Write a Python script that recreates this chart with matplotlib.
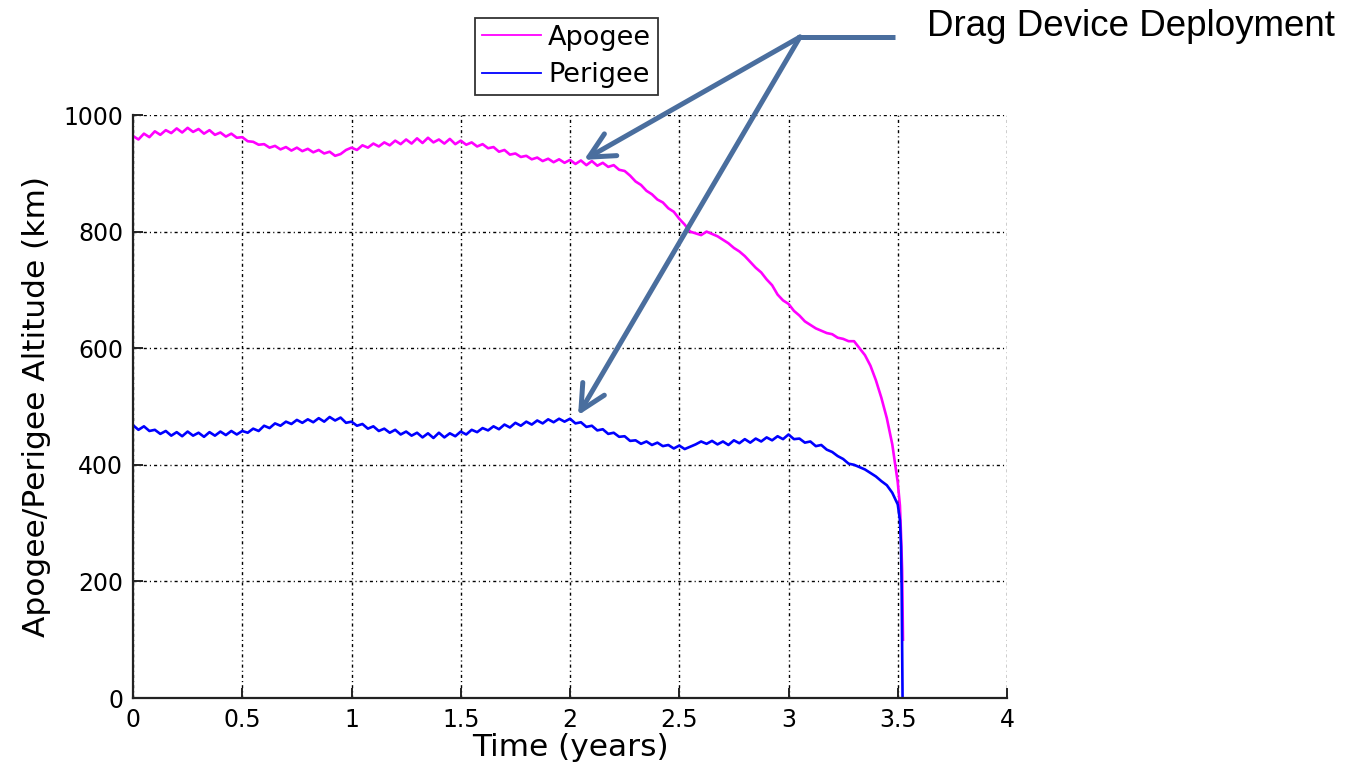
import matplotlib
matplotlib.use("Agg")
import matplotlib.pyplot as plt
from matplotlib.lines import Line2D

# ---------------- data ----------------
apogee_t = [0.000, 0.025, 0.050, 0.075, 0.100, 0.125, 0.150, 0.175, 0.200, 0.225,
            0.250, 0.275, 0.300, 0.325, 0.350, 0.375, 0.400, 0.425, 0.450, 0.475,
            0.500, 0.525, 0.550, 0.575, 0.600, 0.625, 0.650, 0.675, 0.700, 0.725,
            0.750, 0.775, 0.800, 0.825, 0.850, 0.875, 0.900, 0.925, 0.950, 0.975,
            1.000, 1.025, 1.050, 1.075, 1.100, 1.125, 1.150, 1.175, 1.200, 1.225,
            1.250, 1.275, 1.300, 1.325, 1.350, 1.375, 1.400, 1.425, 1.450, 1.475,
            1.500, 1.525, 1.550, 1.575, 1.600, 1.625, 1.650, 1.675, 1.700, 1.725,
            1.750, 1.775, 1.800, 1.825, 1.850, 1.875, 1.900, 1.925, 1.950, 1.975,
            2.000, 2.025, 2.050, 2.075, 2.100, 2.125, 2.150, 2.175, 2.200, 2.225,
            2.250, 2.275, 2.300, 2.325, 2.350, 2.375, 2.400, 2.425, 2.450, 2.475,
            2.500, 2.525, 2.550, 2.575, 2.600, 2.625, 2.650, 2.675, 2.700, 2.725,
            2.750, 2.775, 2.800, 2.825, 2.850, 2.875, 2.900, 2.925, 2.950, 2.975,
            3.000, 3.025, 3.050, 3.075, 3.100, 3.125, 3.150, 3.175, 3.200, 3.225,
            3.250, 3.275, 3.300, 3.325, 3.350, 3.375, 3.400, 3.425, 3.450, 3.475,
            3.500, 3.510, 3.515, 3.520, 3.524]
apogee_km = [964, 958, 968, 962, 972, 966, 974, 969, 977, 970,
             978, 971, 976, 968, 974, 966, 970, 963, 968, 961,
             962, 955, 954, 949, 950, 944, 947, 941, 945, 939,
             944, 938, 942, 936, 940, 934, 937, 930, 933, 940,
             944, 940, 948, 944, 951, 946, 953, 948, 956, 950,
             958, 951, 960, 952, 961, 953, 958, 951, 959, 950,
             956, 949, 953, 946, 950, 943, 945, 937, 940, 932,
             934, 928, 930, 924, 927, 921, 925, 919, 924, 918,
             923, 916, 922, 914, 921, 913, 918, 911, 914, 906,
             904, 896, 886, 880, 870, 864, 855, 850, 840, 834,
             822, 812, 800, 797, 794, 800, 796, 792, 786, 780,
             772, 766, 758, 748, 738, 730, 718, 708, 692, 682,
             676, 664, 656, 646, 640, 634, 630, 626, 624, 618,
             616, 612, 612, 600, 588, 570, 545, 515, 480, 435,
             370, 330, 280, 220, 100]

perigee_t = [0.000, 0.025, 0.050, 0.075, 0.100, 0.125, 0.150, 0.175, 0.200, 0.225,
             0.250, 0.275, 0.300, 0.325, 0.350, 0.375, 0.400, 0.425, 0.450, 0.475,
             0.500, 0.525, 0.550, 0.575, 0.600, 0.625, 0.650, 0.675, 0.700, 0.725,
             0.750, 0.775, 0.800, 0.825, 0.850, 0.875, 0.900, 0.925, 0.950, 0.975,
             1.000, 1.025, 1.050, 1.075, 1.100, 1.125, 1.150, 1.175, 1.200, 1.225,
             1.250, 1.275, 1.300, 1.325, 1.350, 1.375, 1.400, 1.425, 1.450, 1.475,
             1.500, 1.525, 1.550, 1.575, 1.600, 1.625, 1.650, 1.675, 1.700, 1.725,
             1.750, 1.775, 1.800, 1.825, 1.850, 1.875, 1.900, 1.925, 1.950, 1.975,
             2.000, 2.025, 2.050, 2.075, 2.100, 2.125, 2.150, 2.175, 2.200, 2.225,
             2.250, 2.275, 2.300, 2.325, 2.350, 2.375, 2.400, 2.425, 2.450, 2.475,
             2.500, 2.525, 2.550, 2.575, 2.600, 2.625, 2.650, 2.675, 2.700, 2.725,
             2.750, 2.775, 2.800, 2.825, 2.850, 2.875, 2.900, 2.925, 2.950, 2.975,
             3.000, 3.025, 3.050, 3.075, 3.100, 3.125, 3.150, 3.175, 3.200, 3.225,
             3.250, 3.275, 3.300, 3.325, 3.350, 3.375, 3.400, 3.425, 3.450, 3.475,
             3.500, 3.510, 3.515, 3.518, 3.520, 3.522]
perigee_km = [468, 460, 466, 458, 460, 453, 458, 450, 456, 449,
              457, 450, 455, 448, 456, 450, 457, 451, 458, 452,
              458, 455, 462, 458, 467, 463, 471, 467, 474, 470,
              477, 472, 478, 473, 480, 474, 482, 476, 481, 472,
              474, 467, 470, 462, 466, 458, 462, 455, 460, 452,
              457, 450, 455, 447, 454, 446, 455, 447, 454, 449,
              457, 452, 460, 456, 463, 459, 466, 461, 469, 464,
              472, 467, 474, 469, 476, 471, 478, 473, 479, 474,
              479, 471, 473, 465, 467, 459, 461, 453, 455, 448,
              449, 441, 442, 436, 440, 434, 438, 432, 434, 428,
              433, 427, 431, 435, 440, 436, 441, 435, 440, 434,
              442, 437, 444, 438, 445, 440, 447, 442, 449, 444,
              452, 444, 445, 438, 440, 432, 434, 426, 422, 415,
              410, 402, 400, 396, 392, 386, 380, 372, 365, 352,
              332, 305, 260, 185, 100, 0]

series_labels = ["Apogee", "Perigee"]
x_ticks = [0, 0.5, 1, 1.5, 2, 2.5, 3, 3.5, 4]
x_tick_labels = ["0", "0.5", "1", "1.5", "2", "2.5", "3", "3.5", "4"]
y_ticks = [0, 200, 400, 600, 800, 1000]
annotation_text = "Drag Device Deployment"
arrow_targets = [(2.064, 923), (2.037, 485)]

# ---------------- figure ----------------
W, H = 1351, 777
fig = plt.figure(figsize=(W / 100, H / 100), dpi=100)
ax = fig.add_axes([133 / W, 1 - 698 / H, (1007 - 133) / W, (698 - 115) / H])

ax.plot(apogee_t, apogee_km, color="#FF00FF", lw=1.9, label=series_labels[0])
ax.plot(perigee_t, perigee_km, color="#0000FF", lw=1.9, label=series_labels[1])

ax.set_xlim(0, 4)
ax.set_ylim(0, 1000)
ax.set_xticks(x_ticks)
ax.set_xticklabels(x_tick_labels)
ax.set_yticks(y_ticks)

ax.grid(True, color="black", linestyle=(0, (2.2, 2.2, 0.8, 2.2)), lw=1.0)
for s in ["top", "right"]:
    ax.spines[s].set_visible(False)
for s in ["left", "bottom"]:
    ax.spines[s].set_linewidth(1.6)
    ax.spines[s].set_color("#222222")
ax.tick_params(direction="in", length=7, width=1.4, labelsize=17, pad=7,
               color="#222222")
for lab in ax.get_xticklabels() + ax.get_yticklabels():
    lab.set_family("DejaVu Sans")

ax.set_xlabel("Time (years)", fontsize=22.5, family="DejaVu Sans", labelpad=1)
ax.set_ylabel("Apogee/Perigee Altitude (km)", fontsize=22.5,
              family="DejaVu Sans", labelpad=9)

leg = fig.legend(loc="upper left", bbox_to_anchor=(475 / W, 1 - 18 / H),
                 frameon=True, fancybox=False, edgecolor="black",
                 borderaxespad=0, handlelength=2.2, handletextpad=0.25,
                 borderpad=0.25, labelspacing=0.42,
                 prop={"family": "DejaVu Sans", "size": 19.5})
leg.get_frame().set_linewidth(1.3)
for h in leg.get_lines():
    h.set_linewidth(1.3)

# annotation
arrow_color = "#4A6E9E"
fig.text(927 / W, 1 - 27 / H, annotation_text, fontsize=26.5,
         family="Liberation Sans", va="center", ha="left")
fig.add_artist(Line2D([797 / W, 895 / W], [1 - 37 / H, 1 - 37 / H],
                      transform=fig.transFigure, color=arrow_color, lw=3.6,
                      solid_capstyle="butt"))
for tx, ty in arrow_targets:
    ax.annotate("", xy=(tx, ty), xycoords="data",
                xytext=(800 / W, 1 - 37 / H), textcoords="figure fraction",
                arrowprops=dict(arrowstyle="->,head_length=0.9,head_width=0.45",
                                color=arrow_color, lw=3.6, mutation_scale=20,
                                shrinkA=0, shrinkB=0),
                annotation_clip=False)

fig.savefig("out.png", dpi=100)
